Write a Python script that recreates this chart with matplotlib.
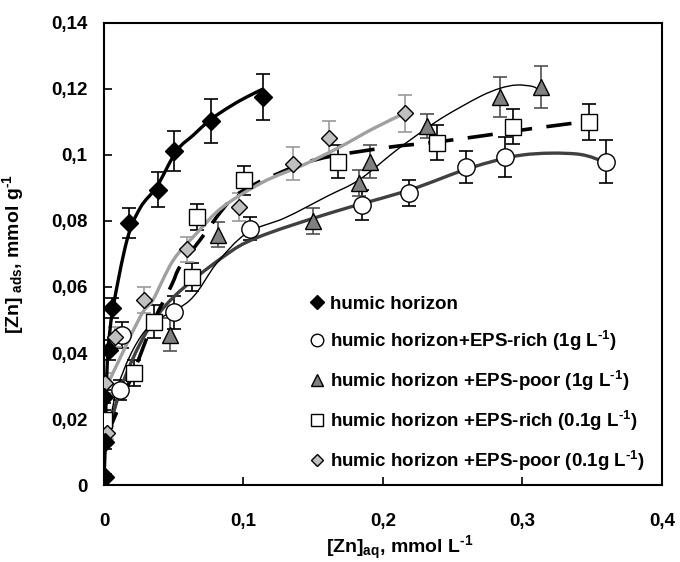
import matplotlib
matplotlib.use("Agg")
import matplotlib.pyplot as plt
import numpy as np
from matplotlib.lines import Line2D
from matplotlib.path import Path
from matplotlib.patches import PathPatch
from matplotlib.ticker import MultipleLocator, FuncFormatter

# humic horizon (black diamonds)
x_hh = [0.0007, 0.0007, 0.0, 0.0036, 0.0057, 0.018, 0.039, 0.050, 0.077, 0.114]
y_hh = [0.0024, 0.013, 0.0267, 0.041, 0.0536, 0.0794, 0.0894, 0.1012, 0.1104, 0.1176]
e_hh = [0.001, 0.002, 0.002, 0.003, 0.003, 0.0045, 0.0053, 0.006, 0.0067, 0.007]
cx_hh = [0.0, 0.001, 0.0015, 0.003, 0.0065, 0.0165, 0.026, 0.038, 0.052, 0.064, 0.076, 0.090, 0.102, 0.114]
cy_hh = [0.002, 0.013, 0.0267, 0.041, 0.0536, 0.0742, 0.084, 0.0905, 0.1012, 0.106, 0.1106, 0.1146, 0.1175, 0.120]

# humic horizon + EPS-rich 1 g/L (white circles)
x_r1 = [0.0115, 0.013, 0.050, 0.105, 0.185, 0.219, 0.2595, 0.2875, 0.36]
y_r1 = [0.0288, 0.0455, 0.0524, 0.0776, 0.0848, 0.0885, 0.0964, 0.0994, 0.098]
e_r1 = [0.003, 0.004, 0.005, 0.0035, 0.0045, 0.004, 0.0048, 0.006, 0.0065]
cx_r1 = [0.002, 0.0136, 0.030, 0.050, 0.085, 0.11, 0.162, 0.219, 0.262, 0.300, 0.339, 0.3605]
cy_r1 = [0.0145, 0.031, 0.046, 0.057, 0.069, 0.075, 0.0824, 0.0894, 0.096, 0.100, 0.1003, 0.0976]

# humic horizon + EPS-poor 1 g/L (grey triangles)
x_p1 = [0.047, 0.0817, 0.150, 0.183, 0.191, 0.2315, 0.284, 0.313]
y_p1 = [0.0455, 0.0758, 0.080, 0.0915, 0.098, 0.1088, 0.1176, 0.1206]
e_p1 = [0.005, 0.0038, 0.004, 0.004, 0.005, 0.0036, 0.006, 0.0065]
cx_p1 = [0.002, 0.010, 0.030, 0.0616, 0.0808, 0.1023, 0.130, 0.160, 0.183, 0.2098,
         0.2313, 0.2457, 0.2695, 0.2839, 0.2958, 0.3077, 0.313]
cy_p1 = [0.012, 0.030, 0.047, 0.056, 0.0672, 0.0763, 0.081, 0.0875, 0.0925, 0.1015,
         0.1081, 0.1121, 0.1177, 0.1202, 0.1212, 0.1207, 0.1192]

# humic horizon + EPS-rich 0.1 g/L (white squares)
x_r01 = [0.0, 0.0215, 0.036, 0.063, 0.0667, 0.1003, 0.168, 0.2387, 0.293, 0.3477]
y_r01 = [0.0197, 0.034, 0.0495, 0.063, 0.0812, 0.0924, 0.098, 0.1037, 0.1085, 0.110]
e_r01 = [0.003, 0.004, 0.005, 0.0043, 0.004, 0.0044, 0.0049, 0.0053, 0.0053, 0.0056]
cx_r01 = [0.002, 0.021, 0.035, 0.0485, 0.0545, 0.0688, 0.09, 0.107, 0.125, 0.1429, 0.165,
          0.205, 0.2315, 0.2575, 0.286, 0.310, 0.3375, 0.348]
cy_r01 = [0.015, 0.034, 0.049, 0.0606, 0.0662, 0.0742, 0.086, 0.0909, 0.0944, 0.0975, 0.0998,
          0.1024, 0.1036, 0.105, 0.1067, 0.1082, 0.1097, 0.1106]

# humic horizon + EPS-poor 0.1 g/L (light grey diamonds)
x_p01 = [0.002, 0.0007, 0.008, 0.029, 0.0595, 0.097, 0.1355, 0.161, 0.2158]
y_p01 = [0.0158, 0.031, 0.0449, 0.056, 0.0715, 0.0842, 0.0973, 0.105, 0.1127]
e_p01 = [0.002, 0.003, 0.003, 0.004, 0.0038, 0.0043, 0.005, 0.0052, 0.0056]
cx_p01 = [0.002, 0.026, 0.035, 0.0495, 0.0667, 0.085, 0.114, 0.143, 0.169, 0.193, 0.2158]
cy_p01 = [0.030, 0.051, 0.056, 0.068, 0.0764, 0.0842, 0.0918, 0.097, 0.1024, 0.108, 0.1127]

sup = r"$^{\text{-}1}$"
labels = [
    "humic horizon",
    "humic horizon+EPS-rich (1g L" + sup + ")",
    "humic horizon +EPS-poor (1g L" + sup + ")",
    "humic horizon +EPS-rich (0.1g L" + sup + ")",
    "humic horizon +EPS-poor (0.1g L" + sup + ")",
]

plt.rcParams['font.family'] = ['Liberation Sans', 'DejaVu Sans']
plt.rcParams['font.weight'] = 'bold'
plt.rcParams['axes.labelweight'] = 'bold'
plt.rcParams['mathtext.fontset'] = 'custom'
plt.rcParams['mathtext.rm'] = 'Liberation Sans:bold'
plt.rcParams['mathtext.bf'] = 'Liberation Sans:bold'
plt.rcParams['mathtext.default'] = 'rm'


def comma(v, pos):
    if abs(v) < 1e-9:
        return "0"
    return ("%g" % round(v, 4)).replace(".", ",")


def smooth_path(xs, ys):
    # Excel-like smoothed line: Catmull-Rom segments as cubic Beziers
    pts = np.column_stack([xs, ys])
    n = len(pts)
    verts = [pts[0]]
    codes = [Path.MOVETO]
    for i in range(n - 1):
        p0 = pts[i - 1] if i > 0 else pts[i]
        p1 = pts[i]
        p2 = pts[i + 1]
        p3 = pts[i + 2] if i + 2 < n else pts[i + 1]
        verts += [p1 + (p2 - p0) / 6.0, p2 - (p3 - p1) / 6.0, p2]
        codes += [Path.CURVE4] * 3
    return Path(verts, codes)


def draw_series(ax, x, y, e, cx, cy, marker, ms, face, ecol, line_kw):
    ax.add_patch(PathPatch(smooth_path(cx, cy), fill=False, zorder=3, **line_kw))
    ax.errorbar(x, y, yerr=e, fmt='none', ecolor=ecol, elinewidth=1.2,
                capsize=5, capthick=1.2, zorder=2)
    ax.plot(x, y, linestyle='none', marker=marker, markersize=ms,
            markerfacecolor=face, markeredgecolor='black', markeredgewidth=1.0, zorder=4)


def main():
    fig = plt.figure(figsize=(6.8, 5.62), dpi=100)
    ax = fig.add_axes([0.1529, 0.137, 0.8206, 0.8221])

    draw_series(ax, x_r1, y_r1, e_r1, cx_r1, cy_r1, 'o', 12.5, 'white', 'black',
                dict(edgecolor='#404040', lw=2.4))
    draw_series(ax, x_p1, y_p1, e_p1, cx_p1, cy_p1, '^', 12, '#808080', '#505050',
                dict(edgecolor='black', lw=1.0))
    draw_series(ax, x_r01, y_r01, e_r01, cx_r01, cy_r01, 's', 11, 'white', 'black',
                dict(edgecolor='black', lw=2.6, linestyle=(0, (7, 4))))
    draw_series(ax, x_p01, y_p01, e_p01, cx_p01, cy_p01, 'D', 8.5, '#c0c0c0', '#999999',
                dict(edgecolor='#a0a0a0', lw=2.4))
    draw_series(ax, x_hh, y_hh, e_hh, cx_hh, cy_hh, 'D', 9, 'black', 'black',
                dict(edgecolor='black', lw=2.4))

    ax.set_xlim(0, 0.4)
    ax.set_ylim(0, 0.14)
    ax.xaxis.set_major_locator(MultipleLocator(0.1))
    ax.yaxis.set_major_locator(MultipleLocator(0.02))
    ax.xaxis.set_major_formatter(FuncFormatter(comma))
    ax.yaxis.set_major_formatter(FuncFormatter(comma))
    ax.tick_params(direction='in', length=6, width=1.2, labelsize=13.5)
    ax.tick_params(axis='x', pad=20)
    ax.tick_params(axis='y', pad=12)
    for sp in ax.spines.values():
        sp.set_linewidth(1.5)

    ax.set_xlabel("[Zn]$_{aq}$, mmol L" + sup, fontsize=14)
    ax.set_ylabel("[Zn]$_{\\ ads}$, mmol g" + sup, fontsize=14)
    ax.xaxis.set_label_coords(0.53, -0.105)
    ax.yaxis.set_label_coords(-0.14, 0.5)

    # legend shows markers only
    handles = [
        Line2D([], [], linestyle='none', marker='D', markersize=7, markerfacecolor='black', markeredgecolor='black'),
        Line2D([], [], linestyle='none', marker='o', markersize=9, markerfacecolor='white', markeredgecolor='black'),
        Line2D([], [], linestyle='none', marker='^', markersize=9, markerfacecolor='#808080', markeredgecolor='black'),
        Line2D([], [], linestyle='none', marker='s', markersize=8, markerfacecolor='white', markeredgecolor='black'),
        Line2D([], [], linestyle='none', marker='D', markersize=6.5, markerfacecolor='#c0c0c0', markeredgecolor='black'),
    ]
    ax.legend(handles, labels, loc='upper left', bbox_to_anchor=(0.368, 0.41),
              frameon=False, fontsize=13.5, handlelength=0.8, handletextpad=0.3,
              labelspacing=0.85, borderaxespad=0, borderpad=0)

    fig.savefig("out.png", dpi=100)
    plt.close()


if __name__ == "__main__":
    main()
